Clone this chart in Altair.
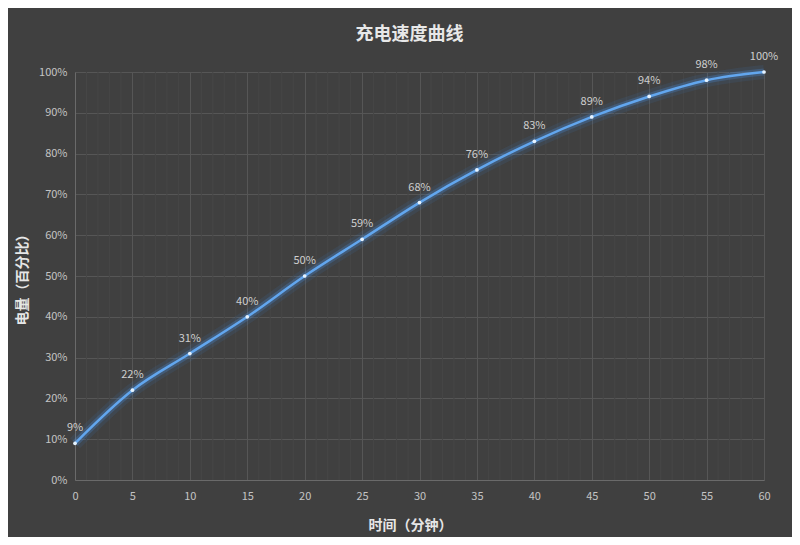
import altair as alt
import pandas as pd

minutes = [0, 5, 10, 15, 20, 25, 30, 35, 40, 45, 50, 55, 60]
charge = [9, 22, 31, 40, 50, 59, 68, 76, 83, 89, 94, 98, 100]
minor_ticks = [m for m in range(0, 61) if m % 5 != 0]

df = pd.DataFrame({"t": minutes, "p": [c / 100 for c in charge], "lbl": [f"{c}%" for c in charge]})
minor_df = pd.DataFrame({"t": minor_ticks})

FONT = "Noto Sans CJK SC"
BG = "#404040"

xscale = alt.Scale(domain=[0, 60], nice=False)
yscale = alt.Scale(domain=[0, 1], nice=False)

base = alt.Chart(df)

minor = alt.Chart(minor_df).mark_rule(color="#464646", strokeWidth=1).encode(
    x=alt.X("t:Q", scale=xscale),
    y=alt.value(0), y2=alt.value(408),
)

x_enc = alt.X("t:Q", scale=xscale,
              axis=alt.Axis(values=minutes, title="时间（分钟）", grid=True, labelFlush=False,
                            gridColor="#565656", domainColor="#6a6a6a", tickSize=0,
                            labelPadding=10, labelColor="#c4c4c4", labelFontSize=11,
                            titleColor="#e6e6e6", titleFontSize=14, titleFontWeight="bold",
                            titleX=335, titleY=38, titleAnchor="middle"))
y_enc = alt.Y("p:Q", scale=yscale,
              axis=alt.Axis(values=[i / 10 for i in range(11)], format=".0%", title="电量（百分比）",
                            grid=True, labelFlush=False, gridColor="#565656", domainColor="#6a6a6a",
                            tickSize=0, labelPadding=8, labelColor="#c4c4c4", labelFontSize=11,
                            titleColor="#e6e6e6", titleFontSize=14, titleFontWeight="bold",
                            titleX=-46, titleY=204))

glow1 = base.mark_line(interpolate="monotone", color="#3f8de0", strokeWidth=14, opacity=0.10).encode(x=x_enc, y=y_enc)
glow2 = base.mark_line(interpolate="monotone", color="#4a95e6", strokeWidth=7, opacity=0.25).encode(x="t:Q", y="p:Q")
line = base.mark_line(interpolate="monotone", color="#62a6ee", strokeWidth=2.5).encode(x="t:Q", y="p:Q")
pts = base.mark_point(filled=True, shape="circle", size=14, color="#e6f3ff", opacity=1).encode(x="t:Q", y="p:Q")
txt = base.mark_text(dy=-15, color="#cfcfcf", fontSize=11, font=FONT).encode(x="t:Q", y="p:Q", text="lbl:N")

chart = alt.layer(minor, glow1, glow2, line, pts, txt).properties(
    width=689, height=408,
    title=alt.TitleParams("充电速度曲线", fontSize=18, fontWeight="bold", color="#e8e8e8",
                          font=FONT, anchor="middle", offset=0, dx=-10),
    background=BG,
    padding={"left": 67, "top": 64, "right": 28, "bottom": 57},
    autosize=alt.AutoSizeParams(type="none"),
).configure(font=FONT).configure_view(stroke=None)

chart.save("out.html", embed_options={"renderer": "svg", "actions": False})
